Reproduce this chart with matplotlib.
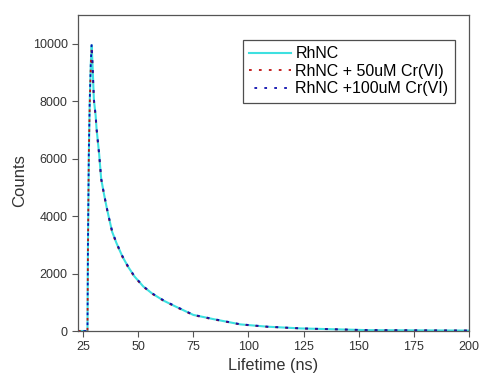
import matplotlib
matplotlib.use("Agg")
import matplotlib.pyplot as plt

plt.rcParams['font.family'] = ['Liberation Sans', 'DejaVu Sans']

# Lifetime (ns) and counts
time_ns = [22.7, 24.0, 25.0, 26.0, 27.0, 27.2, 27.6, 28.0, 28.5, 28.9, 29.2, 29.5, 29.9,
           30.7, 31.1, 31.7, 32.3, 33.2, 34.4, 35.7, 37.0, 38.2, 40.2, 42.8, 45.3,
           48.3, 52.3, 56.4, 61.7, 67.0, 75.0, 84.3, 96.4, 108.5, 123.6, 138.7,
           153.8, 170.0, 185.0, 200.0]
rhnc = [0, 0, 0, 0, 0, 2800, 6100, 7900, 9300, 9950, 9400, 8850, 8050,
        7500, 7050, 6600, 6150, 5300, 4800, 4300, 3850, 3450, 3050, 2600, 2250,
        1900, 1550, 1300, 1050, 850, 560, 410, 230, 150, 90, 60,
        30, 25, 20, 15]
rhnc_50 = [0, 0, 0, 0, 0, 2750, 6050, 7850, 9250, 9900, 9350, 8800, 8000,
           7450, 7000, 6550, 6100, 5280, 4780, 4280, 3830, 3430, 3030, 2580, 2230,
           1880, 1540, 1290, 1040, 840, 550, 400, 225, 145, 88, 58,
           28, 24, 18, 14]
rhnc_100 = [0, 0, 0, 0, 0, 2850, 6150, 7950, 9350, 10000, 9450, 8900, 8080,
            7520, 7080, 6620, 6170, 5320, 4820, 4320, 3870, 3470, 3070, 2620, 2270,
            1910, 1560, 1310, 1060, 860, 565, 415, 235, 152, 92, 62,
            32, 26, 21, 16]

labels = ["RhNC", "RhNC + 50uM Cr(VI)", "RhNC +100uM Cr(VI)"]

fig = plt.figure(figsize=(4.83, 3.85), dpi=100)
ax = fig.add_axes([78/483, 1 - 331/385, (469-78)/483, (331-15)/385])

ax.plot(time_ns, rhnc, color='#3ee0e0', lw=1.5, label=labels[0])
ax.plot(time_ns, rhnc_50, color='#c01010', lw=1.3, linestyle=(0, (1.5, 4)), label=labels[1])
ax.plot(time_ns, rhnc_100, color='#1010b0', lw=1.3, linestyle=(2.5, (1.5, 4)), label=labels[2])

ax.set_xlim(22.7, 200)
ax.set_ylim(0, 11000)
ax.set_xticks([25, 50, 75, 100, 125, 150, 175, 200])
ax.set_yticks([0, 2000, 4000, 6000, 8000, 10000])
ax.tick_params(axis='both', labelsize=9, colors='#555555', labelcolor='#333333',
               direction='out', length=4, width=0.8)
for s in ax.spines.values():
    s.set_color('#555555')
    s.set_linewidth(0.9)

ax.set_xlabel("Lifetime (ns)", fontsize=11.7, color='#333333', labelpad=3)
ax.set_ylabel("Counts", fontsize=12, color='#333333')
ax.yaxis.set_label_coords(-0.13, 0.475)

leg = ax.legend(loc='upper right', bbox_to_anchor=((455-78)/391, (331-40)/316),
                fontsize=11.5, frameon=True, fancybox=False, borderpad=0.4,
                handlelength=2.6, handletextpad=0.3, labelspacing=0.15,
                borderaxespad=0)
leg.get_frame().set_edgecolor('#222222')
leg.get_frame().set_linewidth(0.9)

fig.savefig("out.png", dpi=100)
